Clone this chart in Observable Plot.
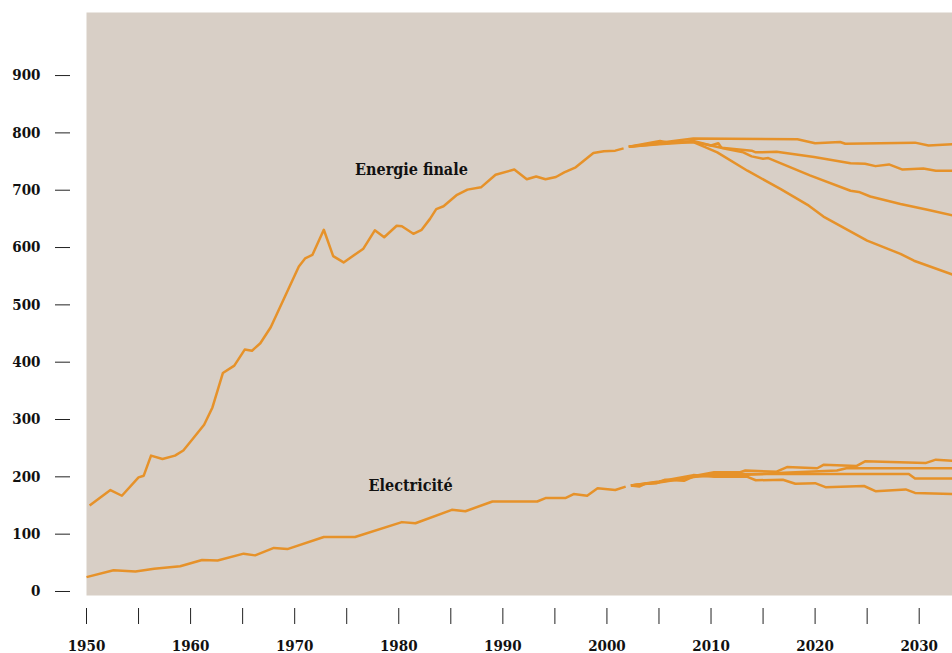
<!DOCTYPE html>
<html><head><meta charset="utf-8">
<script src="https://cdn.jsdelivr.net/npm/d3@7"></script>
<script src="https://cdn.jsdelivr.net/npm/@observablehq/plot@0.6"></script>
<style>body{margin:0;background:#fff}#chart svg{display:block}</style>
</head><body><div id="chart"></div>
<script>
// Energie finale – historique
const energyHistory = [[1950.3,150],[1952.3,177],[1953.4,167],[1955.0,199],[1955.5,202],[1956.2,237],[1957.3,231],[1958.5,237],[1959.3,246],[1960.2,266],[1961.3,291],[1962.1,321],[1963.1,381],[1964.2,394],[1965.2,422],[1965.9,420],[1966.7,433],[1967.7,461],[1970.4,567],[1971.0,581],[1971.7,587],[1972.8,631],[1973.7,585],[1974.7,574],[1976.6,598],[1977.7,630],[1978.6,618],[1979.8,638],[1980.3,637],[1981.4,624],[1982.2,631],[1983.0,650],[1983.6,667],[1984.3,672],[1985.6,692],[1986.6,701],[1987.9,705],[1989.3,727],[1991.1,736],[1992.3,719],[1993.2,724],[1994.1,719],[1995.1,723],[1995.9,731],[1997.0,740],[1998.7,765],[1999.7,768],[2000.8,769],[2001.6,773]];
// Energie finale – scénarios
const energyScenarioA = [[2002.1,776],[2005.1,783],[2008.3,790],[2018.3,789],[2020.0,782],[2022.4,784],[2022.9,781],[2029.6,783],[2030.9,778],[2033.2,780]];
const energyScenarioB = [[2002.1,776],[2005.1,786],[2006.0,783],[2008.3,784],[2010.0,778],[2010.7,782],[2011.0,774],[2013.9,769],[2014.3,766],[2016.3,767],[2019.9,758],[2023.4,747],[2024.8,746],[2025.8,742],[2027.1,745],[2028.4,736],[2030.4,738],[2031.6,734],[2033.2,734]];
const energyScenarioC = [[2002.1,776],[2005.0,781],[2008.3,786],[2010.0,778],[2011.5,772],[2013.1,766],[2013.9,759],[2015.0,755],[2015.5,756],[2019.5,726],[2023.4,699],[2024.2,697],[2025.3,689],[2028.2,676],[2030.8,666],[2033.2,656]];
const energyScenarioD = [[2002.1,776],[2005.0,780],[2008.3,784],[2009.6,774],[2010.6,766],[2013.5,734],[2016.7,702],[2019.4,673],[2020.8,654],[2025.0,612],[2028.2,589],[2029.5,577],[2033.2,553]];
// Electricité – historique
const elecHistory = [[1950.0,25],[1952.6,37],[1954.7,35],[1956.5,39.5],[1959.0,44],[1961.1,55],[1962.6,54],[1965.1,66],[1966.2,63],[1968.0,76],[1969.3,74],[1972.8,95],[1975.8,95],[1980.3,121],[1981.6,119],[1985.1,142.5],[1986.4,140],[1989.0,157],[1993.3,157],[1994.1,163],[1996.0,163],[1996.8,170],[1998.1,167],[1999.1,180],[2000.8,177],[2001.8,183]];
// Electricité – scénarios
const elecScenarioP = [[2002.3,185],[2003.1,183],[2003.7,188],[2004.8,189],[2005.6,195],[2007.4,193],[2008.5,202],[2010.3,208],[2012.8,208],[2013.3,211],[2016.3,209],[2017.3,217],[2020.2,215],[2020.8,221],[2024.0,219],[2024.8,227],[2030.6,224],[2031.6,230],[2033.2,228]];
const elecScenarioQ = [[2002.3,185],[2005.0,190],[2008.5,200],[2010.0,202],[2013.0,203],[2017.0,207],[2022.1,211],[2023.0,215],[2033.2,215]];
const elecScenarioR = [[2002.3,185],[2005.0,191],[2008.5,201],[2010.3,205],[2029.0,205],[2029.6,197],[2033.2,197]];
const elecScenarioS = [[2002.3,185],[2005.0,192],[2008.3,203],[2010.3,200],[2013.5,200],[2014.3,194],[2016.9,195],[2018.1,188],[2020.0,189],[2021.0,182],[2024.7,184],[2025.8,175],[2028.7,178],[2029.6,172],[2033.2,170]];

const yTicks = [0,100,200,300,400,500,600,700,800,900];
const xTicksMinor = [1950,1955,1960,1965,1970,1975,1980,1985,1990,1995,2000,2005,2010,2015,2020,2025,2030];
const xTickLabels = [1950,1960,1970,1980,1990,2000,2010,2020,2030];
const labelTexts = ["Energie finale","Electricité"];
const labelYears = [1975.8,1977.1];
const labelValues = [736,184];

const seriesList = [
  ["energyHistory", energyHistory],["energyScenarioA", energyScenarioA],["energyScenarioB", energyScenarioB],
  ["energyScenarioC", energyScenarioC],["energyScenarioD", energyScenarioD],
  ["elecHistory", elecHistory],["elecScenarioP", elecScenarioP],["elecScenarioQ", elecScenarioQ],
  ["elecScenarioR", elecScenarioR],["elecScenarioS", elecScenarioS]
];
const rows = seriesList.flatMap(([name, data]) => data.map(([year, value]) => ({series: name, year, value})));
const labels = labelTexts.map((text, i) => ({text, year: labelYears[i], value: labelValues[i]}));

const orange = "#e6922a";
const font = "'DejaVu Serif Condensed', 'DejaVu Serif', serif";

const chart = Plot.plot({
  width: 952, height: 653,
  marginLeft: 86, marginRight: 0, marginTop: 12, marginBottom: 58,
  x: {domain: [1950, 2033.2]},
  y: {domain: [-7, 1010]},
  style: {fontFamily: font, fontSize: "15px", fontWeight: "bold", background: "#fff", color: "#111"},
  marks: [
    Plot.frame({fill: "#d8cfc6", stroke: null}),
    Plot.axisY({ticks: yTicks, tickSize: 15, dx: -16, fill: "none", stroke: "#222", label: null}),
    Plot.axisY({ticks: yTicks, tickSize: 0, tickPadding: 46, fill: "#111", label: null}),
    Plot.axisX({ticks: xTicksMinor, tickSize: 16, dy: 13, fill: "none", stroke: "#222", label: null}),
    Plot.axisX({ticks: xTickLabels, tickSize: 0, tickPadding: 45, fill: "#111", label: null, tickFormat: d => String(d)}),
    Plot.line(rows, {x: "year", y: "value", z: "series", stroke: orange, strokeWidth: 2.5, strokeLinecap: "butt", curve: "linear"}),
    Plot.text(labels, {x: "year", y: "value", text: "text", textAnchor: "start", fill: "#111", fontSize: 16})
  ]
});
document.getElementById("chart").append(chart);
</script>
</body></html>
